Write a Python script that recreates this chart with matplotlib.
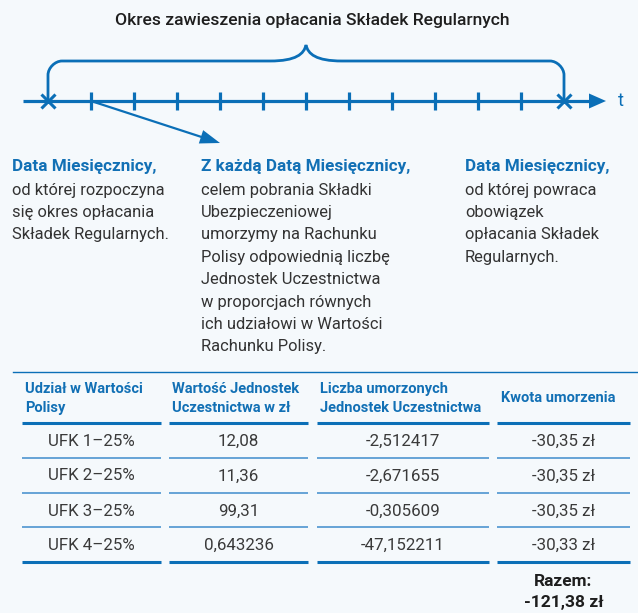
import numpy as np
import matplotlib.pyplot as plt
from matplotlib.path import Path
from matplotlib.patches import PathPatch, Polygon

plt.rcParams['font.family'] = ['Roboto', 'DejaVu Sans']

BLUE = '#0b6fb7'
HEAD_BLUE = '#1270b5'
TEXT = '#333333'
BG = '#f5f9fc'

title = 'Okres zawieszenia opłacania Składek Regularnych'
n_months = 12

left_head = 'Data Miesięcznicy,'
left_body = ['od której rozpoczyna', 'się okres opłacania', 'Składek Regularnych.']
mid_head = 'Z każdą Datą Miesięcznicy,'
mid_body = ['celem pobrania Składki', 'Ubezpieczeniowej', 'umorzymy na Rachunku',
            'Polisy odpowiednią liczbę', 'Jednostek Uczestnictwa',
            'w proporcjach równych', 'ich udziałowi w Wartości', 'Rachunku Polisy.']
right_head = 'Data Miesięcznicy,'
right_body = ['od której powraca', 'obowiązek', 'opłacania Składek', 'Regularnych.']

col_headers = [['Udział w Wartości', 'Polisy'],
               ['Wartość Jednostek', 'Uczestnictwa w zł'],
               ['Liczba umorzonych', 'Jednostek Uczestnictwa'],
               ['Kwota umorzenia']]
funds = ['UFK 1–25%', 'UFK 2–25%', 'UFK 3–25%', 'UFK 4–25%']
unit_values = ['12,08', '11,36', '99,31', '0,643236']
units_redeemed = ['-2,512417', '-2,671655', '-0,305609', '-47,152211']
amounts = ['-30,35 zł', '-30,35 zł', '-30,35 zł', '-30,33 zł']
total = '-121,38 zł'

fig = plt.figure(figsize=(6.38, 6.13), dpi=100, facecolor=BG)
ax = fig.add_axes([0, 0, 1, 1])
ax.set_xlim(0, 638)
ax.set_ylim(613, 0)
ax.axis('off')
ax.set_facecolor(BG)

# title
ax.text(312, 20, title, ha='center', va='center', fontsize=12.6,
        fontweight='medium', color='#1e1e1e')

# timeline
y0 = 101
x_start, step = 48, 43
ax.plot([23, 592], [y0, y0], color=BLUE, lw=2.3, solid_capstyle='butt')
ax.add_patch(Polygon([[606, y0], [589, y0 - 7.5], [589, y0 + 7.5]],
                     closed=True, color=BLUE, lw=0))
ax.text(618, y0, 't', ha='left', va='center', fontsize=13, color=BLUE)

ticks = x_start + step * np.arange(1, n_months)
ax.vlines(ticks, y0 - 9, y0 + 9, color=BLUE, lw=2.3)
x_end = x_start + step * n_months
ax.plot([x_start, x_end], [y0, y0], ls='none', marker='x', ms=9.5,
        mew=2.2, color=BLUE)

# brace
xm = (x_start + x_end) / 2
top, cusp, r = 61, 45, 14
verts = [(x_start, y0), (x_start, top + r),
         (x_start, top + r / 2), (x_start + r / 2, top), (x_start + r, top),
         (xm - 36, top),
         (xm - 10, top), (xm - 2, top - 7), (xm, cusp),
         (xm + 2, top - 7), (xm + 10, top), (xm + 36, top),
         (x_end - r, top),
         (x_end - r / 2, top), (x_end, top + r / 2), (x_end, top + r),
         (x_end, y0)]
codes = [Path.MOVETO, Path.LINETO,
         Path.CURVE4, Path.CURVE4, Path.CURVE4,
         Path.LINETO,
         Path.CURVE4, Path.CURVE4, Path.CURVE4,
         Path.CURVE4, Path.CURVE4, Path.CURVE4,
         Path.LINETO,
         Path.CURVE4, Path.CURVE4, Path.CURVE4,
         Path.LINETO]
ax.add_patch(PathPatch(Path(verts, codes), fill=False, ec=BLUE, lw=2))

# diagonal arrow from first tick
p0 = np.array([ticks[0], y0])
p1 = np.array([220, 143])
d = (p1 - p0) / np.linalg.norm(p1 - p0)
nrm = np.array([-d[1], d[0]])
base = p1 - d * 20
ax.plot([p0[0], base[0]], [p0[1], base[1]], color=BLUE, lw=1.6)
ax.add_patch(Polygon([p1, base + nrm * 7, base - nrm * 7], closed=True,
                     color=BLUE, lw=0))


# text blocks
def block(x, head, body):
    ax.text(x, 167, head, ha='left', va='center', fontsize=12.3,
            fontweight='bold', color=HEAD_BLUE)
    for i, line in enumerate(body):
        ax.text(x, 190 + i * 22.4, line, ha='left', va='center',
                fontsize=11.9, color=TEXT)


block(12, left_head, left_body)
block(201, mid_head, mid_body)
block(465, right_head, right_body)

# table
ax.plot([13, 638], [372, 372], color=BLUE, lw=1)
cols = [(22, 161), (169, 308), (317, 489), (497, 630)]
row_y = [441, 476, 511, 545]
seps = [458, 493, 527]

for (a, b), hdr in zip(cols, col_headers):
    if len(hdr) == 2:
        ax.text(a + 3, 389, hdr[0], ha='left', va='center', fontsize=10.5,
                fontweight='bold', color=HEAD_BLUE)
        ax.text(a + 3, 408, hdr[1], ha='left', va='center', fontsize=10.5,
                fontweight='bold', color=HEAD_BLUE)
    else:
        ax.text(a + 4, 398, hdr[0], ha='left', va='center', fontsize=10.5,
                fontweight='bold', color=HEAD_BLUE)
    ax.plot([a, b], [423, 423], color=BLUE, lw=2.2, solid_capstyle='butt')
    ax.plot([a, b], [562, 562], color=BLUE, lw=2.2, solid_capstyle='butt')
    for s in seps:
        ax.plot([a, b], [s, s], color='#3f8ccc', lw=1.1, solid_capstyle='butt')

for j, column in enumerate([funds, unit_values, units_redeemed, amounts]):
    cx = sum(cols[j]) / 2
    for y, val in zip(row_y, column):
        ax.text(cx, y, val, ha='center', va='center', fontsize=12.2,
                fontweight='normal', color='#3a3a3a')

cx4 = sum(cols[3]) / 2
ax.text(cx4, 582, 'Razem:', ha='center', va='center', fontsize=12.4,
        fontweight='bold', color='#1e1e1e')
ax.text(cx4, 603, total, ha='center', va='center', fontsize=12.6,
        fontweight='bold', color='#1e1e1e')

fig.savefig('out.png', dpi=100, facecolor=BG)
